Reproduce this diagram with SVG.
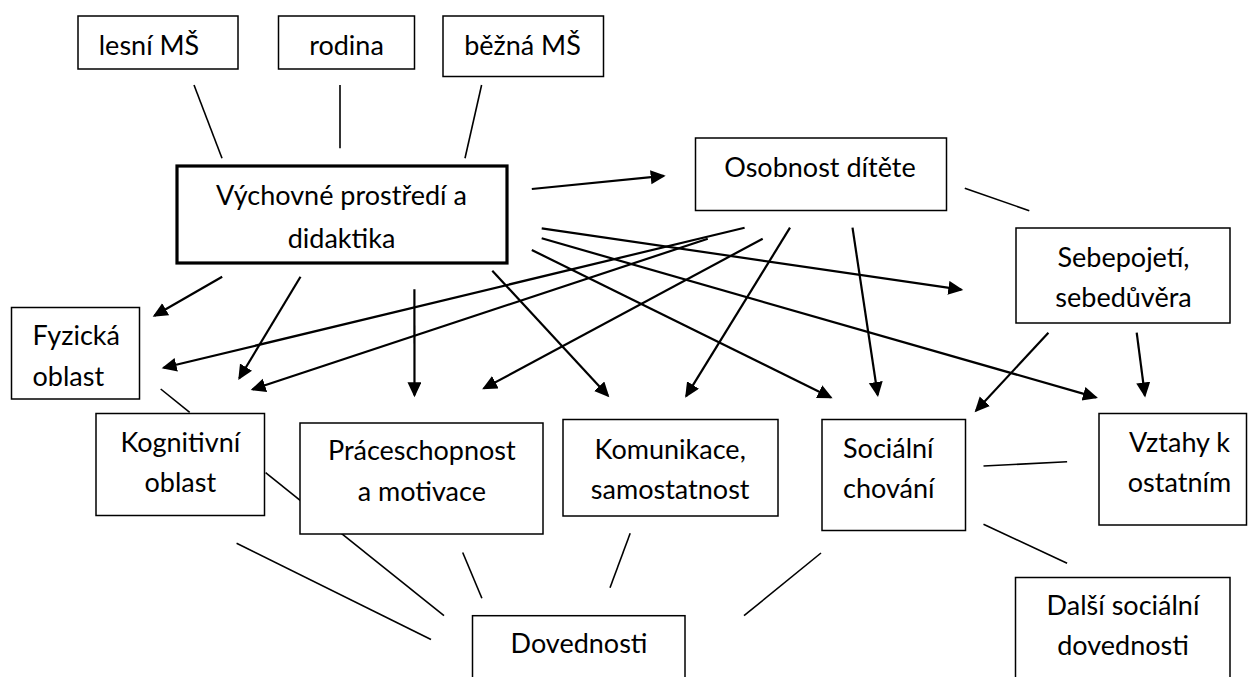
<svg xmlns="http://www.w3.org/2000/svg" width="1249" height="677" viewBox="0 0 1249 677">
<style>
.box{fill:#fff;stroke:#000;stroke-width:1.5}
.main{fill:#fff;stroke:#000;stroke-width:3.2}
.t{font-family:Lato,"Open Sans","Liberation Sans",sans-serif;font-size:27px;fill:#000;text-anchor:middle}
.l{text-anchor:start}
.ln{stroke:#000;stroke-width:1.6;fill:none}
.ar{stroke:#000;stroke-width:2.2;fill:none;marker-end:url(#ah)}
</style>
<defs>
<marker id="ah" markerUnits="userSpaceOnUse" markerWidth="16" markerHeight="15" refX="13" refY="7" orient="auto">
<path d="M0,0 L15,7 L0,14 z" fill="#000"/>
</marker>
</defs>
<rect width="1249" height="677" fill="#fff"/>
<g id="connectors">
<line class="ln" x1="194" y1="85" x2="222" y2="158.3"/>
<line class="ln" x1="340" y1="85" x2="340" y2="148.3"/>
<line class="ln" x1="481.6" y1="85" x2="465" y2="158.3"/>
<line class="ln" x1="964.8" y1="188.3" x2="1029.3" y2="210.7"/>
<line class="ln" x1="160.7" y1="389" x2="189.7" y2="412.3"/>
<line class="ln" x1="265.6" y1="472.7" x2="444" y2="615.7"/>
<line class="ln" x1="236.6" y1="543.3" x2="431" y2="639.5"/>
<line class="ln" x1="462.7" y1="552.5" x2="481.9" y2="598.3"/>
<line class="ln" x1="630.2" y1="533.3" x2="610" y2="587.8"/>
<line class="ln" x1="821" y1="553" x2="744" y2="615.7"/>
<line class="ln" x1="983.5" y1="466" x2="1067.1" y2="461.7"/>
<line class="ln" x1="983.5" y1="524.3" x2="1067.1" y2="563.3"/>
<line class="ar" x1="531.8" y1="189" x2="663.7" y2="175.9"/>
<line class="ar" x1="541.7" y1="228.3" x2="961.3" y2="289.7"/>
<line class="ar" x1="541.7" y1="238.3" x2="1096" y2="397.4"/>
<line class="ar" x1="531.8" y1="250" x2="830.8" y2="397.4"/>
<line class="ar" x1="492.3" y1="270.7" x2="608" y2="395.8"/>
<line class="ar" x1="222.2" y1="276.7" x2="154.4" y2="315.7"/>
<line class="ar" x1="300.5" y1="276.7" x2="239.3" y2="378.3"/>
<line class="ar" x1="414.4" y1="289.3" x2="414.5" y2="395.3"/>
<line class="ar" x1="744.6" y1="227.7" x2="163.6" y2="367.8"/>
<line class="ar" x1="707.8" y1="238.7" x2="252.6" y2="389.4"/>
<line class="ar" x1="762.7" y1="238.7" x2="483.9" y2="388.4"/>
<line class="ar" x1="790" y1="227.7" x2="686.2" y2="396.1"/>
<line class="ar" x1="852.5" y1="227.7" x2="877.7" y2="395"/>
<line class="ar" x1="1048.4" y1="332.7" x2="976" y2="410.8"/>
<line class="ar" x1="1136.7" y1="332.7" x2="1144.9" y2="395.5"/>
</g>
<g id="n-lesni"><rect class="box" x="78" y="16" width="160" height="53"/><text class="t" x="149" y="55">lesní MŠ</text></g>
<g id="n-rodina"><rect class="box" x="278.5" y="16" width="136" height="53"/><text class="t" x="346.5" y="55">rodina</text></g>
<g id="n-bezna"><rect class="box" x="443" y="16" width="160.5" height="60.5"/><text class="t" x="522.5" y="55">běžná MŠ</text></g>
<g id="n-main"><rect class="main" x="177" y="166" width="330" height="97"/><text class="t" x="341.5" y="205">Výchovné prostředí a</text><text class="t" x="341.5" y="248">didaktika</text></g>
<g id="n-osobnost"><rect class="box" x="695.5" y="138" width="251" height="72.5"/><text class="t" x="820" y="176.7">Osobnost dítěte</text></g>
<g id="n-sebepojeti"><rect class="box" x="1016" y="228" width="214" height="95"/><text class="t" x="1123.5" y="266.7">Sebepojetí,</text><text class="t" x="1123.5" y="306.7">sebedůvěra</text></g>
<g id="n-fyzicka"><rect class="box" x="11.5" y="307.5" width="128" height="91.5"/><text class="t l" x="32.5" y="345">Fyzická</text><text class="t l" x="32.5" y="386">oblast</text></g>
<g id="n-kognitivni"><rect class="box" x="96" y="413.5" width="168.5" height="102"/><text class="t" x="180.3" y="451.7">Kognitivní</text><text class="t" x="180.3" y="491.7">oblast</text></g>
<g id="n-prace"><rect class="box" x="300" y="423" width="243" height="111"/><text class="t" x="421.8" y="460">Práceschopnost</text><text class="t" x="421.8" y="500.7">a motivace</text></g>
<g id="n-komunikace"><rect class="box" x="563" y="419.5" width="215" height="96.5"/><text class="t" x="670.2" y="459.3">Komunikace,</text><text class="t" x="670.2" y="499.3">samostatnost</text></g>
<g id="n-socialni"><rect class="box" x="822" y="419.5" width="143.5" height="111"/><text class="t l" x="843" y="458.3">Sociální</text><text class="t l" x="843" y="498.3">chování</text></g>
<g id="n-vztahy"><rect class="box" x="1099" y="413.5" width="147.5" height="111.5"/><text class="t" x="1179.5" y="452">Vztahy k</text><text class="t" x="1179.5" y="492">ostatním</text></g>
<g id="n-dovednosti"><rect class="box" x="472.5" y="615.7" width="212.5" height="80"/><text class="t" x="579" y="653.3">Dovednosti</text></g>
<g id="n-dalsi"><rect class="box" x="1015.5" y="577.5" width="214.5" height="120"/><text class="t" x="1123" y="615">Další sociální</text><text class="t" x="1123" y="655">dovednosti</text></g>
</svg>
